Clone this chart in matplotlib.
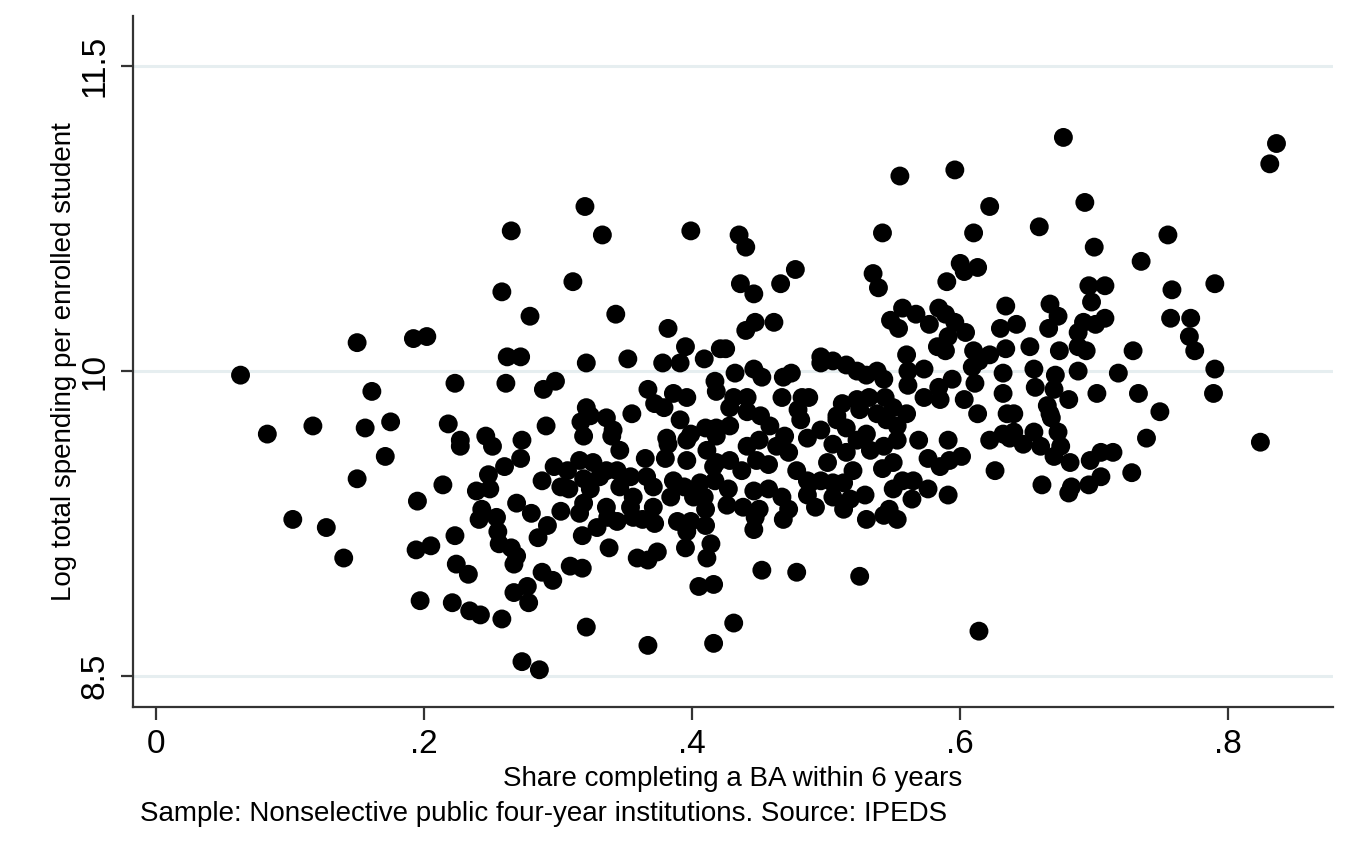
import matplotlib
matplotlib.use("Agg")
import matplotlib.pyplot as plt
import numpy as np

# Share completing a BA within 6 years (x) and log spending per student (y)
# grouped roughly by region of the plot
share_left = [0.063, 0.083, 0.117, 0.156, 0.175, 0.150, 0.192, 0.202, 0.161, 0.171,
              0.150, 0.195, 0.102, 0.127, 0.140, 0.194, 0.205, 0.197]
spend_left = [9.98, 9.69, 9.73, 9.72, 9.75, 10.14, 10.16, 10.17, 9.90, 9.58,
              9.47, 9.36, 9.27, 9.23, 9.08, 9.12, 9.14, 8.87]

share_midtop = [0.320, 0.265, 0.333, 0.399, 0.311, 0.258, 0.279, 0.343, 0.382, 0.395,
                0.262, 0.272, 0.321, 0.352, 0.378, 0.391, 0.409, 0.421, 0.223, 0.261,
                0.289, 0.298, 0.367, 0.417, 0.418, 0.372, 0.379, 0.386, 0.396, 0.391,
                0.355, 0.321, 0.324, 0.317, 0.336, 0.341, 0.218, 0.291, 0.246, 0.227,
                0.273, 0.319, 0.340, 0.381, 0.399, 0.410, 0.418]
spend_midtop = [10.81, 10.69, 10.67, 10.69, 10.44, 10.39, 10.27, 10.28, 10.21, 10.12,
                10.07, 10.07, 10.04, 10.06, 10.04, 10.04, 10.06, 10.11, 9.94, 9.94,
                9.91, 9.95, 9.91, 9.95, 9.90, 9.84, 9.82, 9.89, 9.87, 9.76,
                9.79, 9.82, 9.78, 9.75, 9.77, 9.71, 9.74, 9.73, 9.68, 9.66,
                9.66, 9.68, 9.68, 9.67, 9.69, 9.72, 9.72]

share_midlow = [0.346, 0.227, 0.251, 0.272, 0.260, 0.248, 0.249, 0.239, 0.214, 0.269,
                0.280, 0.243, 0.241, 0.254, 0.255, 0.256, 0.265, 0.269, 0.267, 0.292,
                0.285, 0.223, 0.224, 0.233, 0.288, 0.296, 0.277, 0.267, 0.278, 0.221,
                0.234, 0.242, 0.258, 0.321, 0.273, 0.286, 0.367, 0.416, 0.309, 0.318,
                0.338, 0.359, 0.367, 0.374, 0.395, 0.411, 0.414, 0.405, 0.416, 0.318,
                0.329, 0.336, 0.344, 0.337, 0.316, 0.319, 0.302, 0.354, 0.356, 0.363,
                0.372, 0.389, 0.399, 0.396, 0.410, 0.371, 0.384, 0.401, 0.410, 0.288,
                0.297, 0.302, 0.308, 0.307, 0.316, 0.319, 0.326, 0.331, 0.324, 0.336,
                0.344, 0.346, 0.354, 0.356, 0.366, 0.365, 0.371, 0.380, 0.382, 0.396,
                0.396, 0.386, 0.394, 0.406, 0.409, 0.411, 0.416, 0.417]
spend_midlow = [9.61, 9.63, 9.63, 9.57, 9.53, 9.49, 9.42, 9.41, 9.44, 9.35,
                9.30, 9.32, 9.27, 9.28, 9.21, 9.15, 9.13, 9.09, 9.05, 9.24,
                9.18, 9.19, 9.05, 9.00, 9.01, 8.97, 8.94, 8.91, 8.86, 8.86,
                8.82, 8.80, 8.78, 8.74, 8.57, 8.53, 8.65, 8.66, 9.04, 9.03,
                9.13, 9.08, 9.07, 9.11, 9.13, 9.08, 9.15, 8.94, 8.95, 9.19,
                9.23, 9.33, 9.26, 9.28, 9.30, 9.35, 9.31, 9.33, 9.28, 9.27,
                9.25, 9.26, 9.26, 9.21, 9.24, 9.33, 9.38, 9.38, 9.32, 9.46,
                9.53, 9.43, 9.42, 9.51, 9.56, 9.47, 9.55, 9.48, 9.42, 9.51,
                9.51, 9.43, 9.48, 9.38, 9.48, 9.57, 9.43, 9.57, 9.64, 9.66,
                9.56, 9.46, 9.43, 9.45, 9.38, 9.61, 9.53, 9.46]

share_righttop = [0.555, 0.596, 0.622, 0.435, 0.440, 0.542, 0.610, 0.477, 0.466, 0.436,
                  0.446, 0.535, 0.539, 0.600, 0.603, 0.613, 0.590, 0.557, 0.567, 0.548,
                  0.554, 0.577, 0.584, 0.589, 0.596, 0.604, 0.591, 0.583, 0.589, 0.634,
                  0.630, 0.634, 0.610, 0.622, 0.614, 0.609, 0.560, 0.561, 0.573, 0.561,
                  0.594, 0.611, 0.632, 0.632, 0.584, 0.585, 0.573, 0.603, 0.613, 0.447,
                  0.440, 0.461, 0.425, 0.496, 0.505, 0.496, 0.515, 0.523, 0.530, 0.538,
                  0.543, 0.432, 0.446, 0.452, 0.468, 0.474, 0.431, 0.441, 0.428, 0.441,
                  0.451, 0.467, 0.482, 0.487, 0.479, 0.512, 0.523, 0.532, 0.544, 0.550,
                  0.560, 0.538, 0.508]
spend_righttop = [10.96, 10.99, 10.81, 10.67, 10.61, 10.68, 10.68, 10.50, 10.43, 10.43,
                  10.38, 10.48, 10.41, 10.53, 10.49, 10.51, 10.44, 10.31, 10.28, 10.25,
                  10.21, 10.23, 10.31, 10.28, 10.24, 10.19, 10.17, 10.12, 10.10, 10.32,
                  10.21, 10.11, 10.10, 10.08, 10.05, 10.02, 10.08, 10.00, 10.01, 9.93,
                  9.96, 9.94, 9.99, 9.89, 9.92, 9.86, 9.87, 9.86, 9.79, 10.24,
                  10.20, 10.24, 10.11, 10.07, 10.05, 10.04, 10.03, 10.00, 9.98, 10.00,
                  9.96, 9.99, 10.01, 9.97, 9.97, 9.99, 9.87, 9.87, 9.82, 9.80,
                  9.78, 9.87, 9.87, 9.87, 9.81, 9.84, 9.86, 9.87, 9.87, 9.82,
                  9.79, 9.79, 9.78]

share_rightlow = [0.635, 0.622, 0.632, 0.591, 0.569, 0.576, 0.585, 0.592, 0.601, 0.626,
                  0.591, 0.576, 0.564, 0.550, 0.557, 0.565, 0.550, 0.542, 0.529, 0.530,
                  0.547, 0.543, 0.553, 0.513, 0.518, 0.505, 0.492, 0.486, 0.478, 0.486,
                  0.496, 0.501, 0.505, 0.496, 0.486, 0.481, 0.469, 0.472, 0.463, 0.458,
                  0.428, 0.441, 0.450, 0.448, 0.457, 0.437, 0.428, 0.418, 0.418, 0.427,
                  0.426, 0.438, 0.446, 0.457, 0.467, 0.472, 0.468, 0.450, 0.447, 0.446,
                  0.513, 0.520, 0.515, 0.523, 0.530, 0.533, 0.543, 0.553, 0.545, 0.553,
                  0.525, 0.508, 0.515, 0.505, 0.488, 0.452, 0.478, 0.525, 0.431, 0.614]
spend_rightlow = [9.79, 9.66, 9.69, 9.66, 9.66, 9.57, 9.53, 9.56, 9.58, 9.51,
                  9.39, 9.42, 9.37, 9.42, 9.46, 9.46, 9.55, 9.52, 9.39, 9.27,
                  9.32, 9.29, 9.27, 9.32, 9.37, 9.38, 9.33, 9.39, 9.51, 9.46,
                  9.46, 9.55, 9.64, 9.71, 9.67, 9.76, 9.68, 9.60, 9.63, 9.73,
                  9.73, 9.63, 9.66, 9.56, 9.54, 9.51, 9.56, 9.68, 9.55, 9.42,
                  9.34, 9.33, 9.41, 9.42, 9.38, 9.32, 9.27, 9.32, 9.28, 9.22,
                  9.45, 9.51, 9.60, 9.66, 9.69, 9.61, 9.63, 9.66, 9.76, 9.73,
                  9.81, 9.76, 9.72, 9.45, 9.45, 9.02, 9.01, 8.99, 8.76, 8.72]

share_far = [0.677, 0.836, 0.831, 0.693, 0.659, 0.755, 0.700, 0.735, 0.790, 0.696,
             0.708, 0.758, 0.698, 0.667, 0.673, 0.642, 0.666, 0.692, 0.701, 0.708,
             0.688, 0.757, 0.772, 0.771, 0.775, 0.729, 0.652, 0.674, 0.688, 0.694,
             0.655, 0.671, 0.688, 0.718, 0.790, 0.656, 0.670, 0.681, 0.702, 0.733,
             0.789, 0.665, 0.640, 0.749, 0.667, 0.668, 0.739, 0.824, 0.640, 0.637,
             0.647, 0.655, 0.660, 0.673, 0.675, 0.670, 0.682, 0.697, 0.705, 0.714,
             0.728, 0.705, 0.696, 0.683, 0.681, 0.661]
spend_far = [11.15, 11.12, 11.02, 10.83, 10.71, 10.67, 10.61, 10.54, 10.43, 10.42,
             10.42, 10.40, 10.34, 10.33, 10.27, 10.23, 10.21, 10.24, 10.23, 10.26,
             10.19, 10.26, 10.26, 10.17, 10.10, 10.10, 10.12, 10.10, 10.12, 10.10,
             10.01, 9.98, 10.00, 9.99, 10.01, 9.92, 9.91, 9.86, 9.89, 9.89,
             9.89, 9.83, 9.79, 9.80, 9.79, 9.77, 9.67, 9.65, 9.70, 9.67,
             9.64, 9.70, 9.63, 9.70, 9.63, 9.58, 9.55, 9.56, 9.60, 9.60,
             9.50, 9.48, 9.44, 9.43, 9.40, 9.44]

x_ticks = [0, 0.2, 0.4, 0.6, 0.8]
x_ticklabels = ["0", ".2", ".4", ".6", ".8"]
y_ticks = [8.5, 10, 11.5]
y_ticklabels = ["8.5", "10", "11.5"]

share = np.concatenate([share_left, share_midtop, share_midlow,
                        share_righttop, share_rightlow, share_far])
spend = np.concatenate([spend_left, spend_midtop, spend_midlow,
                        spend_righttop, spend_rightlow, spend_far])

plt.rcParams['font.family'] = ['Liberation Sans', 'DejaVu Sans']

fig = plt.figure(figsize=(13.48, 8.59), dpi=100)
ax = fig.add_axes([0.0987, 0.177, 0.890, 0.804])

ax.scatter(share, spend, s=185, color='black', edgecolors='none', zorder=3)

ax.set_xlim(-0.0172, 0.878)
ax.set_ylim(8.347, 11.746)

ax.set_xticks(x_ticks)
ax.set_xticklabels(x_ticklabels, fontsize=24)
ax.set_yticks(y_ticks)
ax.set_yticklabels(y_ticklabels, fontsize=24, rotation=90, va='center')

ax.grid(axis='y', color='#e6eef0', linewidth=2.2, zorder=0)
ax.set_axisbelow(True)

for side in ['top', 'right']:
    ax.spines[side].set_visible(False)
for side in ['left', 'bottom']:
    ax.spines[side].set_color('#333333')
    ax.spines[side].set_linewidth(1.6)
ax.tick_params(length=9, width=1.6, color='#333333', pad=7)

ax.set_xlabel('Share completing a BA within 6 years', fontsize=20, labelpad=4)
ax.set_ylabel('Log total spending per enrolled student', fontsize=20, labelpad=2)

fig.text(0.104, 0.052, 'Sample: Nonselective public four-year institutions. Source: IPEDS',
         fontsize=20, ha='left', va='center')

fig.savefig('out.png', dpi=100, facecolor='white')
